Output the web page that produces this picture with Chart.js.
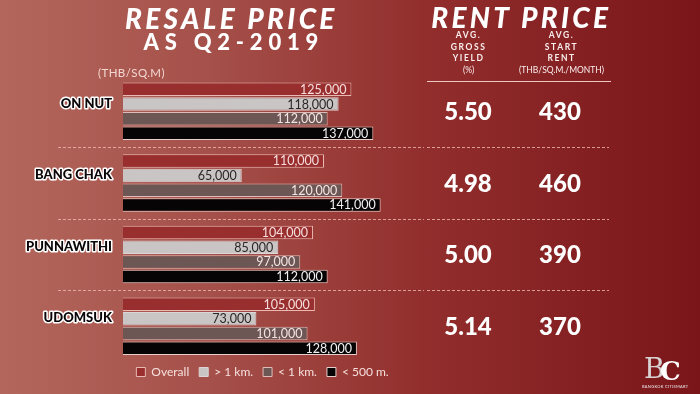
<!DOCTYPE html>
<html>
<head>
<meta charset="utf-8">
<title>Resale price / Rent price Q2-2019</title>
<script src="https://cdn.jsdelivr.net/npm/chart.js"></script>
<style>
  html, body { margin: 0; padding: 0; }
  body {
    width: 700px; height: 394px; overflow: hidden; position: relative;
    background: linear-gradient(90deg, #b3675c 0%, #a5504a 30%, #922f2d 60%, #7a1519 100%);
    font-family: Lato, "Open Sans", sans-serif;
  }
  canvas { position: absolute; left: 0; top: 0; }
  .t { position: absolute; color: #fff; text-align: center; white-space: nowrap; }
  .big { font-weight: 900; font-style: italic; font-size: 28px; line-height: 28px; letter-spacing: 3.3px; padding-left: 3.3px; }
  .sub { font-weight: 700; font-size: 8.5px; line-height: 11.5px; letter-spacing: 1.6px; padding-left: 1.6px; color: #fbeeee; }
  .sub span { font-weight: 400; letter-spacing: 0; }
  .logo { position: absolute; left: 640px; top: 352px; width: 56px; height: 40px; }
</style>
</head>
<body>
<canvas id="resaleChart" width="700" height="394"></canvas>

<div class="t big" style="left:0; width:456px; top:4px;">RESALE PRICE</div>
<div class="t" style="left:0; width:456px; top:30px; font-weight:900; font-size:22px; line-height:24px; letter-spacing:5.8px; padding-left:5.8px;">AS Q2-2019</div>
<div class="t" style="left:98px; top:66px; font-size:11.5px; letter-spacing:0.4px; color:#f4d6d2; text-align:left;">(THB/SQ.M)</div>

<div class="t big" style="left:418px; width:200px; top:3px;">RENT PRICE</div>
<div class="t sub" style="left:417px; width:100px; top:30px;">AVG.<br>GROSS<br>YIELD<br><span>(%)</span></div>
<div class="t sub" style="left:510px; width:100px; top:30px;">AVG.<br>START<br>RENT<br><span>(THB/SQ.M./MONTH)</span></div>

<div class="logo">
  <div style="position:absolute; left:4px; top:0; font-family:'DejaVu Serif', serif; font-size:28px; color:#d9d2d2;">B</div>
  <div style="position:absolute; left:20px; top:4px; font-family:'DejaVu Serif', serif; font-weight:bold; font-size:26px; color:#fff;">C</div>
  <div style="position:absolute; left:2px; top:32px; font-size:4px; color:#eee; letter-spacing:0.3px;">BANGKOK CITISMART</div>
</div>

<script>
var categories = ['ON NUT', 'BANG CHAK', 'PUNNAWITHI', 'UDOMSUK'];
var overall   = [125000, 110000, 104000, 105000];
var over1km   = [118000, 65000, 85000, 73000];
var under1km  = [112000, 120000, 97000, 101000];
var under500m = [137000, 141000, 112000, 128000];
var grossYield = [5.50, 4.98, 5.00, 5.14];
var startRent  = [430, 460, 390, 370];
var seriesNames = ['Overall', '> 1 km.', '< 1 km.', '< 500 m.'];

var valueColors = ['#f7dede', '#2b2626', '#f3e4e4', '#f2f2f2'];

var overlayPlugin = {
    id: 'overlay',
    afterLayout: function (chart) {
        // pull the legend up a little, closer to the last group
        chart.legend.top -= 6;
        chart.legend.bottom -= 6;
    },
    beforeDraw: function (chart) {
        // round joins so the outlined category names have no spikes
        chart.ctx.lineJoin = 'round';
    },
    afterDraw: function (chart) {
        var ctx = chart.ctx;
        var yScale = chart.scales.y;
        ctx.save();

        // values inside the bars
        ctx.font = '12.5px Lato, "Open Sans", sans-serif';
        ctx.textAlign = 'right';
        ctx.textBaseline = 'middle';
        chart.data.datasets.forEach(function (ds, di) {
            var meta = chart.getDatasetMeta(di);
            meta.data.forEach(function (bar, i) {
                ctx.fillStyle = valueColors[di];
                ctx.fillText(ds.data[i].toLocaleString('en-US'), bar.x - 5, bar.y + 0.5);
            });
        });

        // header rule on the rent side
        ctx.strokeStyle = '#efc7c2';
        ctx.lineWidth = 1;
        ctx.beginPath();
        ctx.moveTo(427, 81.5);
        ctx.lineTo(611, 81.5);
        ctx.stroke();

        // dashed separators between groups
        ctx.strokeStyle = 'rgba(240, 185, 178, 0.8)';
        ctx.setLineDash([3, 2]);
        for (var i = 0; i < categories.length - 1; i++) {
            var yy = Math.round((yScale.getPixelForValue(i) + yScale.getPixelForValue(i + 1)) / 2) + 0.5;
            ctx.beginPath();
            ctx.moveTo(58, yy);
            ctx.lineTo(424, yy);
            ctx.moveTo(427, yy);
            ctx.lineTo(609, yy);
            ctx.stroke();
        }
        ctx.setLineDash([]);

        // rent figures
        ctx.fillStyle = '#ffffff';
        ctx.textAlign = 'center';
        ctx.font = '900 24px Lato, "Open Sans", sans-serif';
        categories.forEach(function (c, i) {
            var cy = yScale.getPixelForValue(i) + 1;
            ctx.fillText(grossYield[i].toFixed(2), 468, cy);
            ctx.fillText(String(startRent[i]), 560, cy);
        });
        ctx.restore();
    }
};

var ctx = document.getElementById('resaleChart').getContext('2d');
var chart = new Chart(ctx, {
    type: 'bar',
    data: {
        labels: categories,
        datasets: [
            { label: seriesNames[0], data: overall,   backgroundColor: '#982e2d', borderColor: '#eab9b4', borderWidth: 1 },
            { label: seriesNames[1], data: over1km,   backgroundColor: '#c9c5c5', borderColor: '#ddd6d6', borderWidth: 1 },
            { label: seriesNames[2], data: under1km,  backgroundColor: '#6d5754', borderColor: '#e0bcb8', borderWidth: 1 },
            { label: seriesNames[3], data: under500m, backgroundColor: '#070405', borderColor: '#e6cfcc', borderWidth: 1 }
        ]
    },
    options: {
        indexAxis: 'y',
        responsive: false,
        animation: false,
        categoryPercentage: 0.82,
        barPercentage: 0.92,
        layout: { padding: { top: 75.5, right: 175, bottom: 0, left: 0 } },
        plugins: {
            tooltip: { enabled: false },
            legend: {
                position: 'bottom',
                labels: {
                    color: '#f6e0de',
                    font: { size: 12, family: 'Lato, "Open Sans", sans-serif' },
                    boxWidth: 9,
                    boxHeight: 9,
                    padding: 10
                }
            }
        },
        scales: {
            x: { display: false, min: 0, max: 220000 },
            y: {
                grid: { display: false, drawTicks: false },
                border: { display: false },
                ticks: {
                    color: '#0a0506',
                    padding: 11,
                    labelOffset: -8,
                    textStrokeColor: '#ffffff',
                    textStrokeWidth: 3,
                    font: { size: 13, weight: '900', family: 'Lato, "Open Sans", sans-serif' }
                },
                afterFit: function (scale) { scale.width = 123; }
            }
        }
    },
    plugins: [overlayPlugin]
});
</script>
</body>
</html>
